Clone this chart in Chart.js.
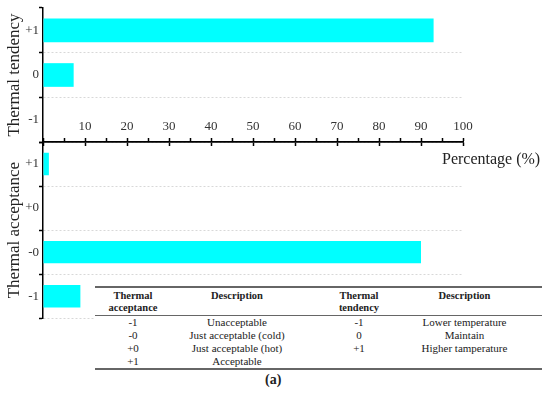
<!DOCTYPE html>
<html>
<head>
<meta charset="utf-8">
<script src="https://cdn.jsdelivr.net/npm/chart.js@4.4.1/dist/chart.umd.min.js"></script>
<style>
  body { margin: 0; background: #fff; }
  #wrap { position: relative; width: 550px; height: 395px; overflow: hidden; font-family: 'Liberation Serif', serif; }
  canvas { position: absolute; left: 0; }
  #top { top: 0; }
  #bottom { top: 110px; }
  #xlabel { position: absolute; left: 442px; top: 150px; font-size: 16px; color: #222; white-space: nowrap; }
  #cap { position: absolute; left: 265px; top: 372px; font-size: 14px; font-weight: bold; color: #222; }
  table { position: absolute; left: 95px; top: 286px; width: 447px; border-collapse: collapse; font-size: 11px; color: #222; background: #fff; }
  table th, table td { text-align: center; padding: 0; font-weight: normal; }
  table thead th { font-weight: bold; font-size: 10.5px; line-height: 12px; padding: 2px 0 1px 0; border-top: 2px solid #666; border-bottom: 1.5px solid #666; vertical-align: top; }
  table tbody td { height: 13px; line-height: 13px; }
  table tbody tr:last-child td { border-bottom: 2px solid #666; }
  .c4 { padding-right: 28px !important; }
</style>
</head>
<body>
<div id="wrap">
  <canvas id="top" width="550" height="150"></canvas>
  <canvas id="bottom" width="550" height="216"></canvas>
  <div id="xlabel">Percentage (%)</div>
  <table>
    <colgroup><col style="width:76px"><col style="width:132px"><col style="width:112px"><col style="width:127px"></colgroup>
    <thead>
      <tr><th>Thermal<br>acceptance</th><th>Description</th><th>Thermal<br>tendency</th><th class="c4">Description</th></tr>
    </thead>
    <tbody>
      <tr><td>-1</td><td>Unacceptable</td><td>-1</td><td class="c4">Lower temperature</td></tr>
      <tr><td>-0</td><td>Just acceptable (cold)</td><td>0</td><td class="c4">Maintain</td></tr>
      <tr><td>+0</td><td>Just acceptable (hot)</td><td>+1</td><td class="c4">Higher tamperature</td></tr>
      <tr><td>+1</td><td>Acceptable</td><td></td><td></td></tr>
    </tbody>
  </table>
  <div id="cap">(a)</div>
</div>
<script>
const tendencyLabels = ['+1', '0', '-1'];
const tendencyValues = [93, 7.3, 0];
const acceptanceLabels = ['+1', '+0', '-0', '-1'];
const acceptanceValues = [1.4, 0, 90, 8.9];

const serif = "'Liberation Serif', serif";
const axisLine = { color: '#000', width: 1.5, dash: [2, 2] };

function yAxis(title, count) {
    return {
        type: 'category',
        afterFit: s => { s.width = 43; },
        grid: {
            offset: true,
            color: c => (c.index === 0 || c.index === count) ? 'rgba(0,0,0,0)' : '#d8d8d8',
            lineWidth: 1,
            tickLength: 4,
            tickColor: '#000',
            tickWidth: 1.5
        },
        border: axisLine,
        ticks: { font: { family: serif, size: 13 }, color: '#333', padding: 0 },
        title: { display: true, text: title, font: { family: serif, size: 17 }, color: '#222', padding: { top: 4, bottom: 0 } }
    };
}

const ctx1 = document.getElementById('top').getContext('2d');
const tendencyChart = new Chart(ctx1, {
    type: 'bar',
    data: {
        labels: tendencyLabels,
        datasets: [{
            label: 'Thermal tendency',
            data: tendencyValues,
            backgroundColor: '#00ffff',
            categoryPercentage: 1,
            barPercentage: 0.53
        }]
    },
    options: {
        indexAxis: 'y',
        responsive: false,
        animation: false,
        layout: { padding: { top: 8, right: 87, left: 0, bottom: 0 } },
        plugins: { legend: { display: false }, tooltip: { enabled: false } },
        scales: {
            x: {
                min: 0, max: 100,
                afterFit: s => { s.height = 8; },
                ticks: { display: false, stepSize: 10 },
                grid: { drawOnChartArea: false, tickLength: 4, tickColor: '#000', tickWidth: 1.5 },
                border: { color: '#000', width: 1.5 }
            },
            y: yAxis('Thermal tendency', tendencyLabels.length)
        }
    }
});

const ctx2 = document.getElementById('bottom').getContext('2d');
const acceptanceChart = new Chart(ctx2, {
    type: 'bar',
    data: {
        labels: acceptanceLabels,
        datasets: [{
            label: 'Thermal acceptance',
            data: acceptanceValues,
            backgroundColor: '#00ffff',
            categoryPercentage: 1,
            barPercentage: 0.51
        }]
    },
    options: {
        indexAxis: 'y',
        responsive: false,
        animation: false,
        layout: { padding: { top: 0, right: 87, left: 0, bottom: 5 } },
        plugins: { legend: { display: false }, tooltip: { enabled: false } },
        scales: {
            x: {
                position: 'top',
                min: 0, max: 100,
                afterFit: s => { s.height = 32; },
                ticks: {
                    stepSize: 5,
                    maxRotation: 0,
                    autoSkip: false,
                    padding: 4,
                    font: { family: serif, size: 13 },
                    color: '#333',
                    callback: v => (v > 0 && v % 10 === 0) ? v : ''
                },
                grid: { drawOnChartArea: false, tickLength: 4, tickColor: '#000', tickWidth: 1.5 },
                border: { color: '#000', width: 1.5 }
            },
            y: yAxis('Thermal acceptance', acceptanceLabels.length)
        }
    }
});
</script>
</body>
</html>
